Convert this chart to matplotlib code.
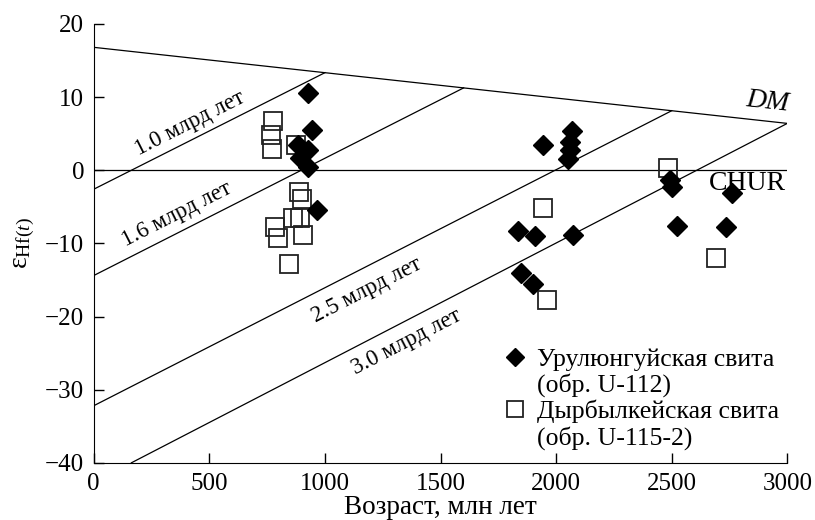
import numpy as np
import matplotlib
matplotlib.use('Agg')
import matplotlib.pyplot as plt
from matplotlib.lines import Line2D

plt.rcParams['font.family'] = ['Liberation Serif', 'DejaVu Serif']
plt.rcParams['mathtext.fontset'] = 'custom'
plt.rcParams['mathtext.rm'] = 'Liberation Serif'
plt.rcParams['mathtext.it'] = 'Liberation Serif:italic'

# Урулюнгуйская свита (обр. U-112)
age_u112 = [928, 942, 884, 928, 892, 928, 964,
            1945, 2068, 2061, 2058, 2053, 2494, 2501, 2760,
            1837, 1909, 2075, 2522, 2734, 1848, 1898]
hf_u112 = [10.5, 5.5, 3.5, 2.8, 1.7, 0.5, -5.5,
           3.5, 5.3, 3.9, 2.8, 1.5, -1.3, -2.3, -3.1,
           -8.3, -9.0, -8.8, -7.6, -7.7, -14.0, -15.5]

# Дырбылкейская свита (обр. U-115-2)
age_u115 = [776, 765, 769, 877, 889, 899, 892, 860, 783, 798, 906, 846,
            2486, 1945, 2693, 1962]
hf_u115 = [6.7, 4.8, 2.9, 3.5, -3.0, -4.0, -6.5, -6.5, -7.7, -9.3, -8.8, -12.8,
           0.3, -5.2, -12.0, -17.7]

# depleted mantle line
dm_x = [0, 3000]
dm_y = [16.8, 6.4]

# crustal evolution lines: (label, start x, start y, end x)
crust_names = ['1.0 млрд лет', '1.6 млрд лет', '2.5 млрд лет', '3.0 млрд лет']
crust_x0 = [0, 0, 0, 163]
crust_y0 = [-2.6, -14.4, -32.2, -40.0]
crust_x1 = [1000, 1600, 2500, 3000]
label_x = [416, 359, 1180, 1353]
label_dy = [2.4, 2.6, -3.2, -3.0]


def dm(x):
    return dm_y[0] + (dm_y[1] - dm_y[0]) * x / 3000.0


fig = plt.figure(figsize=(8.15, 5.2), dpi=100)
ax = fig.add_axes([0.115, 0.11, 0.851, 0.844])

ax.plot(dm_x, dm_y, 'k-', lw=0.9)
ax.axhline(0, color='k', lw=0.9)

for name, x0, y0, x1, lx, dy in zip(crust_names, crust_x0, crust_y0, crust_x1, label_x, label_dy):
    y1 = dm(x1)
    ax.plot([x0, x1], [y0, y1], 'k-', lw=0.9)
    slope = (y1 - y0) / (x1 - x0)
    ly = y0 + slope * (lx - x0) + dy
    ang = np.degrees(np.arctan(slope))
    ax.text(lx, ly, name, fontsize=16.5, ha='center', va='center',
            rotation=ang, rotation_mode='anchor', transform_rotates_text=True)

ax.text(2915, 9.4, 'DM', fontsize=20, style='italic', ha='center', va='center',
        rotation=np.degrees(np.arctan((dm_y[1] - dm_y[0]) / 3000.0)),
        rotation_mode='anchor', transform_rotates_text=True)
ax.text(2827, -1.8, 'CHUR', fontsize=20, ha='center', va='center')

ax.plot(age_u115, hf_u115, 's', ms=12.5, mfc='none', mec='#222222', mew=1.3)
ax.plot(age_u112, hf_u112, 'D', ms=10, mfc='black', mec='black')

h1 = Line2D([], [], marker='D', ms=9, color='black', ls='none')
h2 = Line2D([], [], marker='s', ms=11, mfc='none', mec='#222222', mew=1.3, ls='none')
blank = Line2D([], [], ls='none')
ax.legend([h1, blank, h2, blank],
          ['Урулюнгуйская свита', '(обр. U-112)', 'Дырбылкейская свита', '(обр. U-115-2)'],
          loc='upper left', bbox_to_anchor=(0.593, 0.262), frameon=False, fontsize=18.5,
          handlelength=0.8, handletextpad=0.45, labelspacing=0.1, borderpad=0,
          borderaxespad=0)

ax.set_xlim(0, 3000)
ax.set_ylim(-40, 20)
ax.set_xticks(np.arange(0, 3001, 500))
ax.set_yticks(np.arange(-40, 21, 10))
ax.tick_params(direction='in', length=7, width=1, labelsize=18)
ax.tick_params(axis='x', pad=7)
ax.tick_params(axis='y', pad=7)
ax.spines['top'].set_visible(False)
ax.spines['right'].set_visible(False)
ax.set_xlabel('Возраст, млн лет', fontsize=19.5, labelpad=0)
ax.set_ylabel('ε$_{\\mathrm{Hf}(t)}$', fontsize=20, labelpad=6)

fig.savefig('out.png', dpi=100)
